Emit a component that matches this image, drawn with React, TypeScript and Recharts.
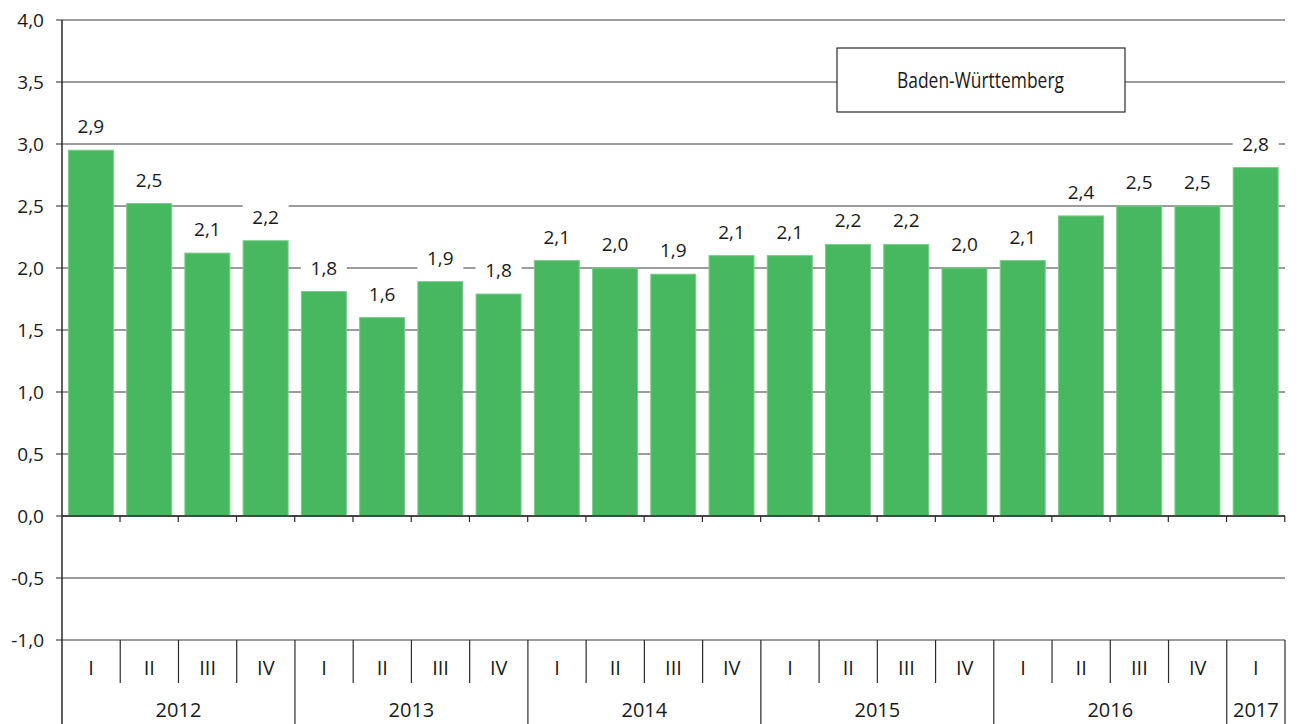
import React from 'react';
import {
  BarChart,
  Bar,
  XAxis,
  YAxis,
  CartesianGrid,
  ReferenceLine,
  LabelList,
  Customized,
} from 'recharts';

// ---- data ----
const quarters = ['I', 'II', 'III', 'IV', 'I', 'II', 'III', 'IV', 'I', 'II', 'III', 'IV', 'I', 'II', 'III', 'IV', 'I', 'II', 'III', 'IV', 'I'];
const categoryYears = ['2012', '2012', '2012', '2012', '2013', '2013', '2013', '2013', '2014', '2014', '2014', '2014', '2015', '2015', '2015', '2015', '2016', '2016', '2016', '2016', '2017'];
const values = [2.95, 2.52, 2.12, 2.22, 1.81, 1.6, 1.89, 1.79, 2.06, 2.0, 1.95, 2.1, 2.1, 2.19, 2.19, 2.0, 2.06, 2.42, 2.5, 2.5, 2.81];
const valueLabels = ['2,9', '2,5', '2,1', '2,2', '1,8', '1,6', '1,9', '1,8', '2,1', '2,0', '1,9', '2,1', '2,1', '2,2', '2,2', '2,0', '2,1', '2,4', '2,5', '2,5', '2,8'];
const yTicks = [-1, -0.5, 0, 0.5, 1, 1.5, 2, 2.5, 3, 3.5, 4];
const legendLabel = 'Baden-Württemberg';

const data = quarters.map((q, i) => ({
  key: `${categoryYears[i]}-${q}`,
  quarter: q,
  year: categoryYears[i],
  value: values[i],
  label: valueLabels[i],
}));

// ---- layout ----
const W = 1298;
const H = 724;
const LEFT = 62;
const RIGHT_M = 13;
const TOP = 20;
const XAXIS_H = 84;
const BOTTOM = H - XAXIS_H;
const BAND = (W - LEFT - RIGHT_M) / data.length;
const FONT = '"Open Sans", "Noto Sans", sans-serif';
const TEXT = '#1a1a1a';
const LINE = '#2a2a2a';
const GREEN = '#47B860';

const QuarterTick = (props: any) => {
  const { x, payload, index } = props;
  const i = payload && typeof payload.index === 'number' ? payload.index : index;
  const d = data[i];
  if (!d) return null;
  const half = BAND / 2;
  const isYearEnd = i === data.length - 1 || data[i + 1].year !== d.year;
  const isYearStart = i === 0 || data[i - 1].year !== d.year;
  let yearLabel: any = null;
  if (isYearStart) {
    const n = data.filter((e) => e.year === d.year).length;
    const cx = x - half + (n * BAND) / 2;
    yearLabel = (
      <text x={cx} y={BOTTOM + 77} textAnchor="middle" fontSize={20} fontFamily={FONT} fill={TEXT}>
        {d.year}
      </text>
    );
  }
  return (
    <g>
      <text x={x} y={BOTTOM + 35} textAnchor="middle" fontSize={20} fontFamily={FONT} fill={TEXT}>
        {d.quarter}
      </text>
      <line x1={x + half} x2={x + half} y1={BOTTOM} y2={isYearEnd ? H : BOTTOM + 43} stroke={LINE} strokeWidth={1.2} />
      {i === 0 && <line x1={x - half} x2={x - half} y1={BOTTOM} y2={H} stroke={LINE} strokeWidth={1.5} />}
      {yearLabel}
    </g>
  );
};

const BarShape = (props: any) => {
  const { x, y, width, height } = props;
  const cx = x + width / 2;
  const base = y + height;
  return (
    <g>
      <rect x={x} y={y} width={width} height={height} fill={GREEN} stroke="#7ccc8c" strokeWidth={1} />
      <line x1={cx + BAND / 2} x2={cx + BAND / 2} y1={base} y2={base + 6} stroke={LINE} strokeWidth={1.2} />
    </g>
  );
};

const ValueLabel = (props: any) => {
  const { x, y, width, value } = props;
  const cx = Number(x) + Number(width) / 2;
  const cy = Number(y) - 24;
  return (
    <g>
      <rect x={cx - 23} y={cy - 13} width={46} height={26} fill="#ffffff" />
      <text x={cx} y={cy + 7} textAnchor="middle" fontSize={19} fontFamily={FONT} fill={TEXT}>
        {value}
      </text>
    </g>
  );
};

const LegendBox = () => (
  <g>
    <rect x={837} y={48} width={288} height={64} fill="#ffffff" stroke={LINE} strokeWidth={1.2} />
    <text
      x={897}
      y={88}
      fontSize={21}
      fontFamily={FONT}
      fill={TEXT}
      textLength={167}
      lengthAdjust="spacingAndGlyphs"
    >
      {legendLabel}
    </text>
  </g>
);

const fmt = (v: number) => v.toFixed(1).replace('.', ',');

export default function App() {
  return (
    <div style={{ position: 'absolute', left: 0, top: 0, width: W, height: H, background: '#fff' }}>
      <BarChart
        width={W}
        height={H}
        data={data}
        margin={{ top: TOP, right: RIGHT_M, bottom: 0, left: 0 }}
        barCategoryGap="11%"
      >
        <CartesianGrid vertical={false} stroke="#3a3a3a" strokeWidth={1} />
        <YAxis
          type="number"
          domain={[-1, 4]}
          ticks={yTicks}
          width={LEFT}
          tickFormatter={fmt}
          axisLine={{ stroke: LINE, strokeWidth: 1.5 }}
          tickLine={{ stroke: LINE }}
          tickSize={6}
          tickMargin={12}
          tick={{ fontSize: 19, fontFamily: FONT, fill: TEXT }}
          interval={0}
          allowDataOverflow
        />
        <XAxis
          dataKey="key"
          height={XAXIS_H}
          interval={0}
          axisLine={false}
          tickLine={false}
          tick={<QuarterTick />}
        />
        <Bar dataKey="value" isAnimationActive={false} shape={<BarShape />}>
          <LabelList dataKey="label" content={<ValueLabel />} />
        </Bar>
        <ReferenceLine y={0} stroke={LINE} strokeWidth={1.5} />
        <Customized component={<LegendBox />} />
      </BarChart>
    </div>
  );
}
